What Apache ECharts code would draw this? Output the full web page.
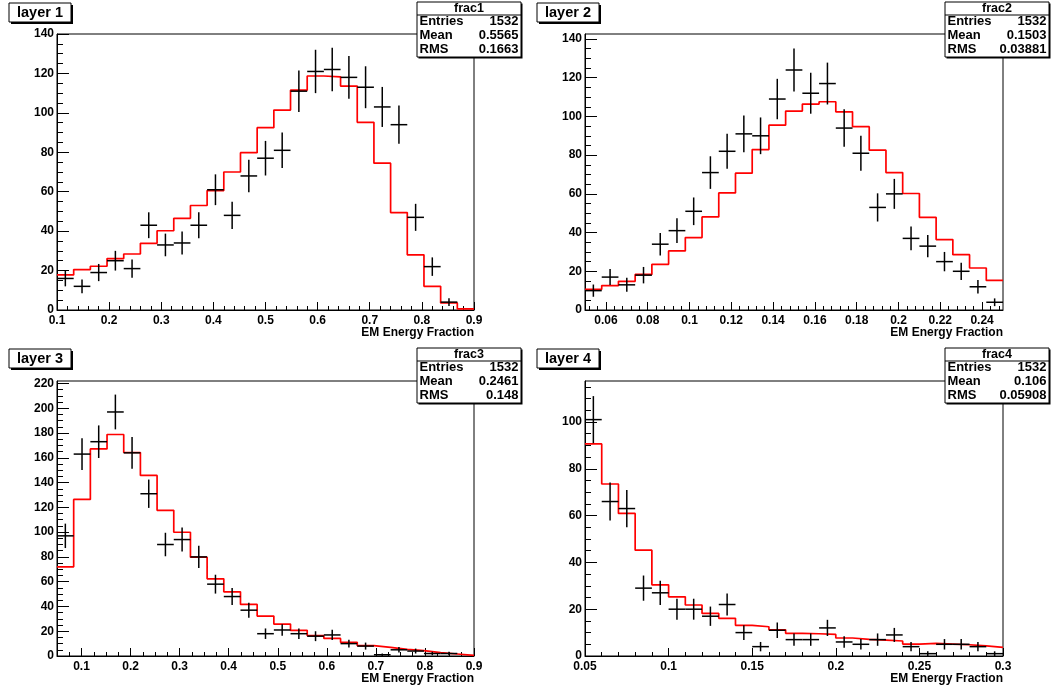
<!DOCTYPE html>
<html>
<head>
<meta charset="utf-8">
<script src="https://cdn.jsdelivr.net/npm/echarts@6/dist/echarts.min.js"></script>
<style>
html,body{margin:0;padding:0;background:#fff;}
#chart{width:1058px;height:691px;}
</style>
</head>
<body>
<div id="chart"></div>
<script>
// ---------------- data ----------------
const layerNames = ['layer 1', 'layer 2', 'layer 3', 'layer 4'];
const histNames = ['frac1', 'frac2', 'frac3', 'frac4'];
const entries = ['1532', '1532', '1532', '1532'];
const means = ['0.5565', '0.1503', '0.2461', '0.106'];
const rmss = ['0.1663', '0.03881', '0.148', '0.05908'];
const xTitle = 'EM Energy Fraction';

// bin ranges (25 bins each)
const l1Range = [0.1, 0.9];
const l2Range = [0.05, 0.25];
const l3Range = [0.05, 0.9];
const l4Range = [0.05, 0.3];

// measured data (points with error bars)
const l1Data = [16, 12, 19, 25, 21, 43, 33, 34, 43, 61, 48, 68, 77, 81, 111, 121, 122, 118, 113, 103, 94, 47, 22, 4, 0];
const l2Data = [10, 17, 13, 18, 34, 41, 51, 71, 82, 91, 90, 109, 124, 112, 117, 94, 81, 53, 60, 37, 33, 25, 20, 12, 4];
const l3Data = [97, 163, 173, 197, 164, 131, 90, 94, 80, 58, 48, 37, 18, 21, 18, 16, 17, 10, 8, 1, 5, 4, 2, 2, 0];
const l4Data = [101, 66, 63, 29, 27, 20, 20, 17, 22, 10, 4, 11, 7, 7, 12, 6, 5, 7, 9, 4, 1, 5, 5, 4, 1];

// simulation (red histogram)
const l1MC = [17.8, 20.5, 22.2, 26.1, 28.4, 33.8, 40.2, 46.5, 53, 60.6, 70, 79.8, 92.5, 101.4, 111.5, 118.7, 118.3, 113.6, 95.2, 74.5, 49.4, 28, 12, 3.6, 0.6];
const l2MC = [10.7, 12.6, 14.8, 18.4, 23.6, 30.5, 37.4, 48.1, 60.5, 70.7, 82.9, 95.5, 102.8, 106.4, 107.6, 102.4, 94.7, 82.6, 71, 60.2, 47.9, 36.4, 28.6, 21.7, 15.3];
const l3MC = [72, 126.4, 167.2, 178.8, 164.3, 145.8, 117.6, 99.9, 79.7, 62.3, 51.8, 41.6, 32.2, 25.8, 20.7, 16.4, 14.2, 11, 8.3, 7, 5.4, 4.3, 2.7, 1.6, 0.5];
const l4MC = [90.6, 73.5, 60.9, 45.2, 30.4, 25.3, 21.8, 18.2, 16.1, 13.1, 12.5, 11.2, 9.7, 9.5, 9.2, 7.7, 7.1, 6.8, 6.4, 5.1, 5.4, 5.1, 4.8, 4.3, 3.7];

// tick labels
const l1XTicks = [0.1, 0.2, 0.3, 0.4, 0.5, 0.6, 0.7, 0.8, 0.9];
const l2XTicks = [0.06, 0.08, 0.1, 0.12, 0.14, 0.16, 0.18, 0.2, 0.22, 0.24];
const l3XTicks = [0.1, 0.2, 0.3, 0.4, 0.5, 0.6, 0.7, 0.8, 0.9];
const l4XTicks = [0.05, 0.1, 0.15, 0.2, 0.25, 0.3];
const l1YTicks = [0, 20, 40, 60, 80, 100, 120, 140];
const l2YTicks = [0, 20, 40, 60, 80, 100, 120, 140];
const l3YTicks = [0, 20, 40, 60, 80, 100, 120, 140, 160, 180, 200, 220];
const l4YTicks = [0, 20, 40, 60, 80, 100];

// ---------------- layout / style ----------------
const panels = [
  {range: l1Range, data: l1Data, mc: l1MC, xt: l1XTicks, yt: l1YTicks, ymax: 140,   xminor: 0.02,  yminor: 5,
   grid: {left: 57, top: 34, width: 417, height: 276}, ox: 0, oy: 0},
  {range: l2Range, data: l2Data, mc: l2MC, xt: l2XTicks, yt: l2YTicks, ymax: 142.6, xminor: 0.004, yminor: 5,
   grid: {left: 585, top: 34, width: 418, height: 276}, ox: 528, oy: 0},
  {range: l3Range, data: l3Data, mc: l3MC, xt: l3XTicks, yt: l3YTicks, ymax: 222,   xminor: 0.025, yminor: 5,
   grid: {left: 57, top: 381, width: 417, height: 275}, ox: 0, oy: 346},
  {range: l4Range, data: l4Data, mc: l4MC, xt: l4XTicks, yt: l4YTicks, ymax: 117.5, xminor: 0.01,  yminor: 5,
   grid: {left: 585, top: 381, width: 418, height: 275}, ox: 528, oy: 346}
];

const FONT = '"Liberation Sans", Arial, Helvetica, sans-serif';
const NBINS = 25;

function minorVals(lo, hi, step) {
  const out = [];
  const start = Math.ceil(lo / step - 1e-9);
  for (let k = start; k * step <= hi + 1e-9; k++) out.push(+(k * step).toFixed(6));
  return out;
}
function fmt(v) { return String(parseFloat((+v).toFixed(4))); }

const grids = [], xAxes = [], yAxes = [], series = [], graphics = [];

panels.forEach((p, i) => {
  const [lo, hi] = p.range;
  const w = (hi - lo) / NBINS;
  grids.push(Object.assign({show: true, borderColor: '#000', borderWidth: 1, backgroundColor: '#fff', containLabel: false}, p.grid));

  // major x axis
  xAxes.push({
    type: 'value', gridIndex: i, min: lo, max: hi, position: 'bottom',
    axisLine: {show: true, onZero: false, lineStyle: {color: '#000', width: 1}},
    axisTick: {show: true, inside: true, length: 8, customValues: p.xt, lineStyle: {color: '#000', width: 1}},
    axisLabel: {show: true, customValues: p.xt, formatter: fmt, color: '#000', fontFamily: FONT, fontWeight: 'bold', fontSize: 12, margin: 5},
    splitLine: {show: false},
    name: xTitle, nameLocation: 'end', nameGap: 0,
    nameTextStyle: {align: 'right', verticalAlign: 'top', padding: [17, 0, 0, 0], color: '#000', fontFamily: FONT, fontWeight: 'bold', fontSize: 12}
  });
  // minor x axis
  xAxes.push({
    type: 'value', gridIndex: i, min: lo, max: hi, position: 'bottom',
    axisLine: {show: false, onZero: false},
    axisTick: {show: true, inside: true, length: 4, customValues: minorVals(lo, hi, p.xminor), lineStyle: {color: '#000', width: 1}},
    axisLabel: {show: false}, splitLine: {show: false}
  });
  // major y axis
  yAxes.push({
    type: 'value', gridIndex: i, min: 0, max: p.ymax, position: 'left',
    axisLine: {show: true, onZero: false, lineStyle: {color: '#000', width: 1}},
    axisTick: {show: true, inside: true, length: 12, customValues: p.yt, lineStyle: {color: '#000', width: 1}},
    axisLabel: {show: true, customValues: p.yt, formatter: fmt, color: '#000', fontFamily: FONT, fontWeight: 'bold', fontSize: 12, margin: 3},
    splitLine: {show: false}
  });
  // minor y axis
  yAxes.push({
    type: 'value', gridIndex: i, min: 0, max: p.ymax, position: 'left',
    axisLine: {show: false, onZero: false},
    axisTick: {show: true, inside: true, length: 6, customValues: minorVals(0, p.ymax, p.yminor), lineStyle: {color: '#000', width: 1}},
    axisLabel: {show: false}, splitLine: {show: false}
  });

  // red simulation histogram outline
  const stepPts = p.mc.map((v, k) => [lo + k * w, v]);
  stepPts.push([hi, p.mc[p.mc.length - 1]]);
  series.push({
    type: 'line', xAxisIndex: 2 * i, yAxisIndex: 2 * i, step: 'end', data: stepPts,
    symbol: 'none', lineStyle: {color: '#ff0000', width: 1.7}, z: 3, silent: true, animation: false
  });

  // data points with sqrt(N) errors and bin-width horizontal bars
  const pts = [];
  p.data.forEach((v, k) => { if (v > 0) pts.push([lo + (k + 0.5) * w, v, Math.sqrt(v), w / 2]); });
  series.push({
    type: 'custom', xAxisIndex: 2 * i, yAxisIndex: 2 * i, data: pts, z: 4, silent: true, animation: false, clip: true,
    renderItem: function (params, api) {
      const x = api.value(0), y = api.value(1), e = api.value(2), hw = api.value(3);
      const l = api.coord([x - hw, y]), r = api.coord([x + hw, y]);
      const t = api.coord([x, y + e]), b = api.coord([x, Math.max(0, y - e)]);
      const st = {stroke: '#000', lineWidth: 1.5};
      return {type: 'group', children: [
        {type: 'line', shape: {x1: l[0], y1: l[1], x2: r[0], y2: r[1]}, style: st},
        {type: 'line', shape: {x1: t[0], y1: t[1], x2: b[0], y2: b[1]}, style: st}
      ]};
    }
  });

  // title box (layer N)
  const tb = {x: 9 + p.ox, y: 3 + p.oy, w: 62, h: 19};
  graphics.push({type: 'rect', shape: {x: tb.x + 2, y: tb.y + 2, width: tb.w, height: tb.h}, style: {fill: '#000'}, z: 10});
  graphics.push({type: 'rect', shape: {x: tb.x, y: tb.y, width: tb.w, height: tb.h}, style: {fill: '#fff', stroke: '#000', lineWidth: 1}, z: 11});
  graphics.push({type: 'text', x: tb.x + tb.w / 2, y: tb.y + tb.h / 2 + 0.5, z: 12,
    style: {text: layerNames[i], fill: '#000', font: 'bold 14.5px ' + FONT, textAlign: 'center', textVerticalAlign: 'middle'}});

  // stats box
  const sb = {x: 417 + p.ox, y: 2 + p.oy, w: 104, h: 55};
  graphics.push({type: 'rect', shape: {x: sb.x + 1.5, y: sb.y + 1.5, width: sb.w, height: sb.h}, style: {fill: '#000'}, z: 10});
  graphics.push({type: 'rect', shape: {x: sb.x, y: sb.y, width: sb.w, height: sb.h}, style: {fill: '#fff', stroke: '#000', lineWidth: 1}, z: 11});
  graphics.push({type: 'line', shape: {x1: sb.x, y1: sb.y + 13, x2: sb.x + sb.w, y2: sb.y + 13}, style: {stroke: '#000', lineWidth: 1}, z: 12});
  graphics.push({type: 'text', x: sb.x + sb.w / 2, y: sb.y + 6.5, z: 12,
    style: {text: histNames[i], fill: '#000', font: 'bold 12.5px ' + FONT, textAlign: 'center', textVerticalAlign: 'middle'}});
  const rows = [['Entries', entries[i]], ['Mean', means[i]], ['RMS', rmss[i]]];
  rows.forEach((r, k) => {
    const yy = sb.y + 19 + k * 14;
    graphics.push({type: 'text', x: sb.x + 2.5, y: yy, z: 12,
      style: {text: r[0], fill: '#000', font: 'bold 13px ' + FONT, textAlign: 'left', textVerticalAlign: 'middle'}});
    graphics.push({type: 'text', x: sb.x + sb.w - 2.5, y: yy, z: 12,
      style: {text: r[1], fill: '#000', font: 'bold 13px ' + FONT, textAlign: 'right', textVerticalAlign: 'middle'}});
  });
});

const chart = echarts.init(document.getElementById('chart'), null, {renderer: 'canvas'});
chart.setOption({
  backgroundColor: '#fff',
  animation: false,
  grid: grids,
  xAxis: xAxes,
  yAxis: yAxes,
  series: series,
  graphic: {elements: graphics}
});
</script>
</body>
</html>
